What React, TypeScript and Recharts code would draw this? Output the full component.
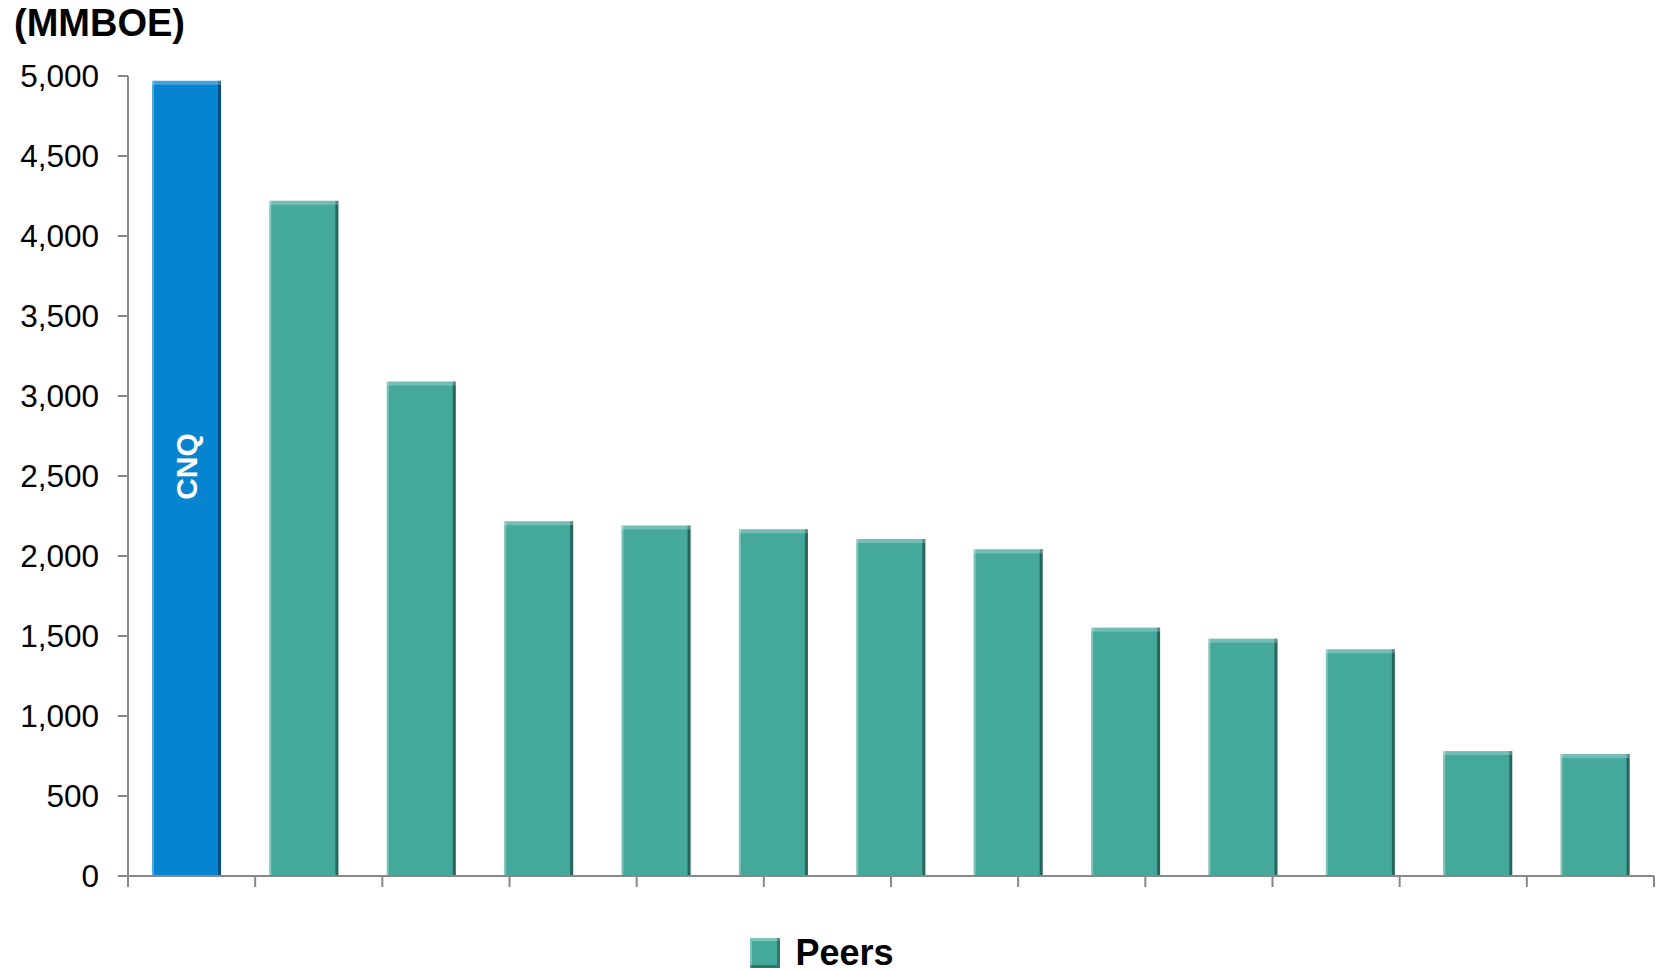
import React from "react";
import { BarChart, Bar, XAxis, YAxis, Cell, Legend } from "recharts";

// reserves by company, left to right (MMBOE)
const companies = [
  "CNQ", "Peer A", "Peer B", "Peer C", "Peer D", "Peer E", "Peer F",
  "Peer G", "Peer H", "Peer I", "Peer J", "Peer K", "Peer L",
];
const reserves = [4970, 4220, 3090, 2217, 2190, 2167, 2106, 2042, 1552, 1483, 1417, 781, 762];
const yTicks = [0, 500, 1000, 1500, 2000, 2500, 3000, 3500, 4000, 4500, 5000];
const seriesName = "Peers";
const highlightLabel = "CNQ";

const data = companies.map((name, i) => ({ name, value: reserves[i] }));
const boundaryTicks = companies.map((_, i) => i).concat(companies.length);

const FONT = '"Liberation Sans", Arial, sans-serif';
const CNQ_BLUE = "#0684d0";
const PEER_TEAL = "#44a99b";

function BevelBar(props: any) {
  const { x, y, width, height, fill } = props;
  if (!height || height <= 0) return null;
  return (
    <g>
      <rect x={x} y={y} width={width} height={height} fill={fill} />
      <rect x={x} y={y} width={2} height={height} fill="#ffffff" opacity={0.3} />
      <rect x={x + width - 3} y={y} width={3} height={height} fill="#000000" opacity={0.4} />
      <rect x={x} y={y} width={width} height={4} fill="#ffffff" opacity={0.25} />
    </g>
  );
}

function CnqLabel(props: any) {
  const { x, y, width, height, index } = props;
  if (index !== 0) return null;
  const cx = x + width / 2;
  const cy = y + height * 0.485;
  return (
    <text
      x={cx}
      y={cy}
      transform={`rotate(-90 ${cx} ${cy})`}
      textAnchor="middle"
      dominantBaseline="central"
      fill="#ffffff"
      fontFamily={FONT}
      fontWeight="bold"
      fontSize={30}
    >
      {highlightLabel}
    </text>
  );
}

function PeersLegend() {
  return (
    <div
      style={{
        display: "flex",
        justifyContent: "center",
        alignItems: "center",
        height: 34,
        paddingRight: 10,
        boxSizing: "border-box",
      }}
    >
      <div
        style={{
          width: 30,
          height: 30,
          background: PEER_TEAL,
          boxShadow: "inset -3px -3px 0 rgba(0,0,0,0.3), inset 2px 3px 0 rgba(255,255,255,0.3)",
          marginRight: 15,
        }}
      />
      <span style={{ fontFamily: FONT, fontWeight: "bold", fontSize: 36, color: "#000", lineHeight: "34px" }}>
        {seriesName}
      </span>
    </div>
  );
}

export default function App() {
  return (
    <div style={{ position: "absolute", left: 0, top: 0, width: 1659, height: 970, background: "#fff" }}>
      <div
        style={{
          position: "absolute",
          left: 14,
          top: 2,
          fontFamily: FONT,
          fontWeight: "bold",
          fontSize: 38,
          color: "#000",
          zIndex: 2,
        }}
      >
        (MMBOE)
      </div>
      <BarChart
        width={1659}
        height={970}
        data={data}
        margin={{ top: 76, right: 5, bottom: 0, left: 0 }}
      >
        <XAxis xAxisId="cat" dataKey="name" hide height={0} />
        <XAxis
          xAxisId="grid"
          type="number"
          domain={[0, companies.length]}
          ticks={boundaryTicks}
          interval={0}
          height={60}
          stroke="#888888"
          strokeWidth={2}
          tickSize={11}
          tickFormatter={() => ""}
          allowDataOverflow
        />
        <YAxis
          width={128}
          domain={[0, 5000]}
          ticks={yTicks}
          interval={0}
          stroke="#888888"
          strokeWidth={2}
          tickSize={10}
          tickMargin={19}
          tickFormatter={(v: number) => v.toLocaleString("en-US")}
          tick={{ fill: "#000", fontFamily: FONT, fontSize: 31.5 }}
        />
        <Legend verticalAlign="bottom" height={34} content={() => <PeersLegend />} />
        <Bar
          xAxisId="cat"
          dataKey="value"
          name={seriesName}
          fill={PEER_TEAL}
          barSize={69}
          shape={<BevelBar />}
          label={<CnqLabel />}
          isAnimationActive={false}
        >
          {data.map((d, i) => (
            <Cell key={d.name} fill={i === 0 ? CNQ_BLUE : PEER_TEAL} />
          ))}
        </Bar>
      </BarChart>
    </div>
  );
}
